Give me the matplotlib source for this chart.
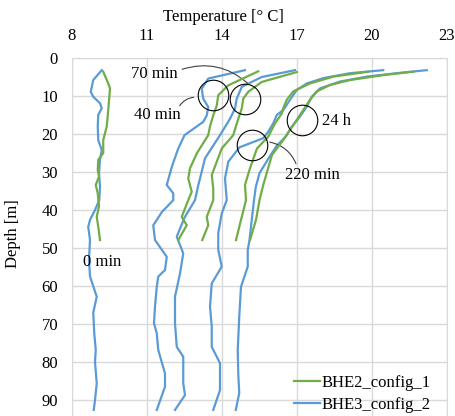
import matplotlib.pyplot as plt

plt.rcParams["font.family"] = ["Liberation Serif", "DejaVu Serif"]
plt.rcParams["font.size"] = 12

# --- Data (depth in m, temperature in deg C) ---
# BHE2_config_1 (green), 0 .. ~48 m
g0_depth = [3.6, 6.7, 8, 13.7, 18, 21.6, 25, 26.8, 29.5, 31.2, 33.4, 35.6, 39, 41.8, 44.4, 47.9]
g0_temp = [9.25, 9.45, 9.52, 9.45, 9.39, 9.25, 9.25, 9.05, 9.03, 9.08, 8.95, 9.03, 9.08, 8.99, 9.05, 9.12]

g40_depth = [3.5, 7.2, 9.8, 12.5, 15.1, 18, 20.3, 25, 29, 31.7, 35.2, 37.4, 41.8, 44, 47.9]
g40_temp = [15.45, 14.25, 13.85, 13.79, 13.65, 13.52, 13.45, 13.0, 12.72, 12.65, 12.79, 12.65, 12.39, 12.59, 12.25]

g70_depth = [3.7, 6.3, 8.9, 10.7, 13.3, 16, 20.3, 23.8, 30.8, 34.3, 37.4, 41.8, 44, 47.9]
g70_temp = [16.99, 15.59, 15.05, 14.85, 14.79, 14.65, 14.45, 13.99, 13.59, 13.65, 13.65, 13.39, 13.45, 13.21]

g220_depth = [3.6, 4.9, 6.7, 8.8, 11, 13.2, 14.6, 17.2, 20.7, 23.8, 29, 33.4, 37.4, 42.6, 47.9]
g220_temp = [19.85, 18.45, 17.52, 16.85, 16.59, 16.45, 16.39, 16.12, 15.85, 15.4, 15.12, 14.92, 14.96, 14.76, 14.56]

g24h_depth = [3.6, 4.5, 5.8, 7.1, 8.8, 11, 13.7, 16.3, 18.9, 21.6, 25.5, 30, 33.4, 37.4, 42.6, 47.9]
g24h_temp = [21.65, 20.45, 19.12, 18.32, 17.79, 17.52, 17.25, 16.99, 16.72, 16.45, 16.0, 15.8, 15.65, 15.5, 15.36, 15.12]

# BHE3_config_2 (blue), 0 .. ~93 m
b0_depth = [3.2, 5.8, 8.9, 10.2, 11.9, 13.2, 15, 18, 21.6, 24.2, 26.8, 30.3, 33.9, 37.4, 40, 42.6, 44.4,
            47.9, 53, 57.5, 62.8, 67, 72.4, 76.8, 80, 85.6, 90, 92.6]
b0_temp = [9.19, 8.85, 8.75, 8.85, 9.12, 9.19, 9.05, 9.03, 9.05, 9.19, 9.12, 9.08, 9.12, 9.09, 8.92, 8.72, 8.65,
           8.72, 8.68, 8.72, 8.99, 8.85, 8.89, 8.95, 8.92, 8.99, 8.92, 8.87]

b40_depth = [3.2, 5.4, 8.1, 10.7, 12.9, 15.1, 16.8, 20.3, 23.8, 28.5, 33.4, 35.6, 37.4, 40.5, 44, 47.9,
             52.3, 55.8, 57.5, 60.2, 65.4, 69.8, 72.4, 76.8, 83, 86.5, 92.6]
b40_temp = [14.92, 13.45, 13.19, 13.25, 13.45, 13.39, 13.25, 12.5, 12.25, 12.0, 11.79, 12.05, 12.05, 11.6, 11.25,
            11.32, 11.79, 11.72, 11.45, 11.39, 11.32, 11.28, 11.39, 11.45, 11.72, 11.72, 11.39]

b70_depth = [3.2, 5, 7.6, 10.7, 13.3, 16, 20.3, 26.4, 29.9, 33.5, 37.4, 42, 47, 51.4, 56.7, 62.8, 69.8,
             76, 78.6, 85.6, 88.7, 92.6]
b70_temp = [16.92, 15.59, 14.79, 14.59, 14.52, 14.32, 13.92, 13.32, 13.19, 13.05, 12.92, 12.5, 12.19, 12.45,
            12.32, 12.12, 12.12, 12.19, 12.45, 12.45, 12.52, 12.12]

b220_depth = [3.2, 4, 5.3, 6.7, 8.4, 11, 13.7, 15, 17.2, 19.4, 21.1, 23.5, 27.3, 31.7, 37.4, 40.9, 46.1,
              50.5, 54.9, 59.3, 65.4, 70.7, 76, 80.3, 87.4, 92.6]
b220_temp = [20.45, 19.12, 18.05, 17.39, 16.99, 16.72, 16.45, 16.19, 16.05, 15.85, 15.65, 14.7, 14.25, 14.12,
             14.19, 13.99, 13.85, 13.85, 13.99, 13.59, 13.52, 13.59, 13.59, 13.92, 13.92, 13.65]

b24h_depth = [3.2, 3.9, 4.9, 6.2, 8, 10.2, 12.8, 15.4, 18.1, 20.7, 23, 26, 30.3, 34, 37.4, 42, 47.9, 50.5,
              54.9, 60.2, 68, 76.8, 83, 88.2, 92.6]
b24h_temp = [22.19, 21.12, 19.79, 18.72, 17.92, 17.59, 17.39, 17.12, 16.79, 16.55, 16.2, 15.9, 15.5, 15.35,
             15.28, 15.2, 15.1, 15.03, 15.03, 14.76, 14.69, 14.63, 14.65, 14.69, 14.55]

x_ticks = [8, 11, 14, 17, 20, 23]
y_ticks = [0, 10, 20, 30, 40, 50, 60, 70, 80, 90]

GREEN = "#70AD47"
BLUE = "#5B9BD5"

fig = plt.figure(figsize=(4.56, 4.16), dpi=100)
ax = fig.add_axes([72 / 456, 0, 375 / 456, 358 / 416])

blue_lines = [(b0_temp, b0_depth), (b40_temp, b40_depth), (b70_temp, b70_depth),
              (b220_temp, b220_depth), (b24h_temp, b24h_depth)]
green_lines = [(g0_temp, g0_depth), (g40_temp, g40_depth), (g70_temp, g70_depth),
               (g220_temp, g220_depth), (g24h_temp, g24h_depth)]

for t, d in blue_lines:
    hb, = ax.plot(t, d, color=BLUE, lw=1.6, solid_joinstyle="round", zorder=3)
for t, d in green_lines:
    hg, = ax.plot(t, d, color=GREEN, lw=1.6, solid_joinstyle="round", zorder=4)

ax.set_xlim(8, 23)
ax.set_ylim(94.2, 0)
ax.set_xticks(x_ticks)
ax.set_yticks(y_ticks)
ax.xaxis.tick_top()
ax.tick_params(length=0, pad=10, labelsize=12)
ax.grid(True, color="#d9d9d9", lw=1)
for s in ["left", "top", "right"]:
    ax.spines[s].set_color("#d9d9d9")
ax.spines["bottom"].set_visible(False)

ax.set_ylabel("Depth [m]", fontsize=12)
ax.yaxis.set_label_coords(-0.135, 0.51)
fig.text(223 / 456, 1 - 17 / 416, "Temperature [° C]", ha="center", va="center", fontsize=12)

# circles marking each time step
circ_x = [13.65, 14.92, 17.19, 15.2]
circ_y = [9.8, 10.7, 16.3, 22.9]
ax.plot(circ_x, circ_y, "o", ms=22, mfc="none", mec="black", mew=0.8, zorder=5)

ax.text(11.3, 4.2, "70 min", ha="center", va="center")
ax.text(11.4, 15.0, "40 min", ha="center", va="center")
ax.text(18.0, 16.5, "24 h", ha="left", va="center")
ax.text(17.6, 30.8, "220 min", ha="center", va="center")
ax.text(8.45, 53.6, "0 min", ha="left", va="center")

line_kw = dict(arrowstyle="-", color="#404040", lw=0.8)
ax.annotate("", xy=(15.1, 7.1), xytext=(12.3, 3.2),
            arrowprops=dict(connectionstyle="arc3,rad=-0.3", **line_kw))
ax.annotate("", xy=(12.98, 10.3), xytext=(12.25, 13.2),
            arrowprops=dict(connectionstyle="arc3,rad=-0.3", **line_kw))
ax.annotate("", xy=(17.0, 28.5), xytext=(15.8, 22.0),
            arrowprops=dict(connectionstyle="arc3,rad=-0.3", **line_kw))

ax.legend([hg, hb], ["BHE2_config_1", "BHE3_config_2"], loc="lower left",
          bbox_to_anchor=(0.573, -0.009), frameon=False, handlelength=1.6,
          handletextpad=0.1, labelspacing=0.35, fontsize=12, borderaxespad=0)

plt.savefig("out.png", dpi=100)
